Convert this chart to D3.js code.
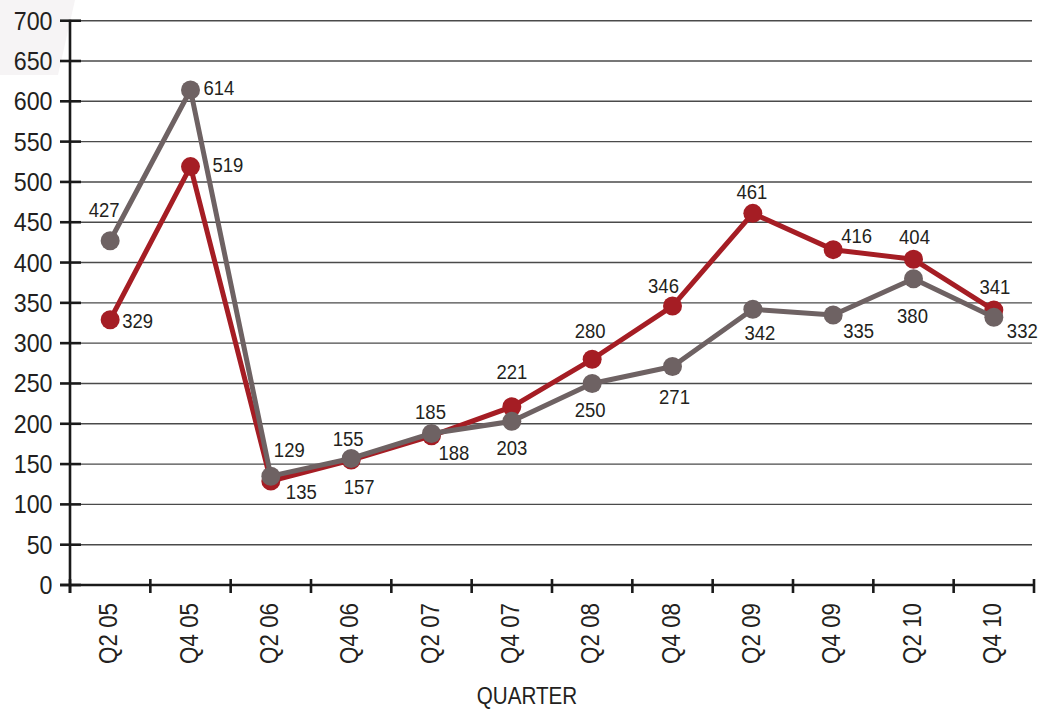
<!DOCTYPE html>
<html><head><meta charset="utf-8">
<script src="https://cdn.jsdelivr.net/npm/d3@7"></script>
<style>
body{margin:0;background:#fff}
svg{display:block}
text{font-family:"Liberation Sans",Arial,sans-serif;fill:#231f20}
</style>
</head><body>
<svg id="c" width="1047" height="709"></svg>
<script>
// ---- data ----
const quarters = ["Q2 05","Q4 05","Q2 06","Q4 06","Q2 07","Q4 07","Q2 08","Q4 08","Q2 09","Q4 09","Q2 10","Q4 10"];
const redValues = [329,519,129,155,185,221,280,346,461,416,404,341];
const grayValues = [427,614,135,157,188,203,250,271,342,335,380,332];
const yTickValues = [0,50,100,150,200,250,300,350,400,450,500,550,600,650,700];
const xTitle = "QUARTER";

// ---- label placement (dx, dy relative to point, anchor) ----
const redLabelPos = [[12,8,"start"],[22,5,"start"],[3,-24,"start"],[-3,-14,"middle"],[-1,-17,"middle"],[0,-28,"middle"],[-2,-21,"middle"],[-9,-13,"middle"],[-1,-14,"middle"],[8,-7,"start"],[1,-15,"middle"],[1,-16,"middle"]];
const grayLabelPos = [[-6,-24,"middle"],[13,5,"start"],[15,23,"start"],[8,36,"middle"],[7,27,"start"],[0,34,"middle"],[-2,34,"middle"],[2,37,"middle"],[7,31,"middle"],[10,23,"start"],[-1,44,"middle"],[13,21,"start"]];

const RED = "#a51d24", GRAY = "#6e6263";
const svg = d3.select("#c");

// decorative corner shape
svg.append("polygon").attr("points","0,0 75,0 58,75 0,75").attr("fill","#f6f4f5");

const x = d3.scaleBand().domain(quarters).range([70,1034]).padding(0);
const y = d3.scaleLinear().domain([0,700]).range([585,20.7]);

// gridlines
svg.append("g").selectAll("line").data(yTickValues.filter(d=>d>0)).join("line")
  .attr("x1",81).attr("x2",1032).attr("y1",d=>y(d)).attr("y2",d=>y(d))
  .attr("stroke","#4a4a4a").attr("stroke-width",1.4);

// y axis
const yAxis = svg.append("g");
yAxis.append("line").attr("x1",70).attr("x2",70).attr("y1",y(700)-1).attr("y2",593)
  .attr("stroke","#1a1a1a").attr("stroke-width",2.6);
yAxis.selectAll("line.t").data(yTickValues).join("line").attr("class","t")
  .attr("x1",60).attr("x2",81).attr("y1",d=>y(d)).attr("y2",d=>y(d))
  .attr("stroke","#1a1a1a").attr("stroke-width",2.6);
yAxis.selectAll("text").data(yTickValues).join("text")
  .attr("transform",d=>`translate(52.5,${y(d)}) scale(0.93,1)`)
  .attr("dy","0.36em").attr("text-anchor","end")
  .attr("font-size",25).text(d=>d);

// x axis
const xAxis = svg.append("g");
xAxis.append("line").attr("x1",60).attr("x2",1034).attr("y1",y(0)).attr("y2",y(0))
  .attr("stroke","#1a1a1a").attr("stroke-width",2.6);
const bounds = quarters.map(q=>x(q)).concat([x(quarters[quarters.length-1])+x.bandwidth()]);
xAxis.selectAll("line.t").data(bounds).join("line").attr("class","t")
  .attr("x1",d=>d).attr("x2",d=>d).attr("y1",579).attr("y2",593)
  .attr("stroke","#1a1a1a").attr("stroke-width",2.6);
xAxis.selectAll("text").data(quarters).join("text")
  .attr("transform",d=>`translate(${x(d)+x.bandwidth()/2},603) rotate(-90) scale(0.86,1)`)
  .attr("dy","0.28em").attr("text-anchor","end").attr("font-size",26).text(d=>d);
svg.append("text").attr("transform","translate(527,704) scale(0.86,1)")
  .attr("text-anchor","middle").attr("font-size",24).text(xTitle);

// series
const cx = i => x(quarters[i]) + x.bandwidth()/2;
function drawSeries(vals,color){
  const line = d3.line().x((d,i)=>cx(i)).y(d=>y(d));
  svg.append("path").datum(vals).attr("d",line).attr("fill","none")
    .attr("stroke",color).attr("stroke-width",5).attr("stroke-linejoin","round");
  svg.append("g").selectAll("circle").data(vals).join("circle")
    .attr("cx",(d,i)=>cx(i)).attr("cy",d=>y(d)).attr("r",9.5).attr("fill",color);
}
drawSeries(redValues,RED);
drawSeries(grayValues,GRAY);

function drawLabels(vals,pos){
  svg.append("g").selectAll("text").data(vals).join("text")
    .attr("transform",(d,i)=>`translate(${cx(i)+pos[i][0]},${y(d)+pos[i][1]}) scale(0.95,1)`)
    .attr("text-anchor",(d,i)=>pos[i][2]).attr("font-size",19.5).text(d=>d);
}
drawLabels(redValues,redLabelPos);
drawLabels(grayValues,grayLabelPos);
</script>
</body></html>
